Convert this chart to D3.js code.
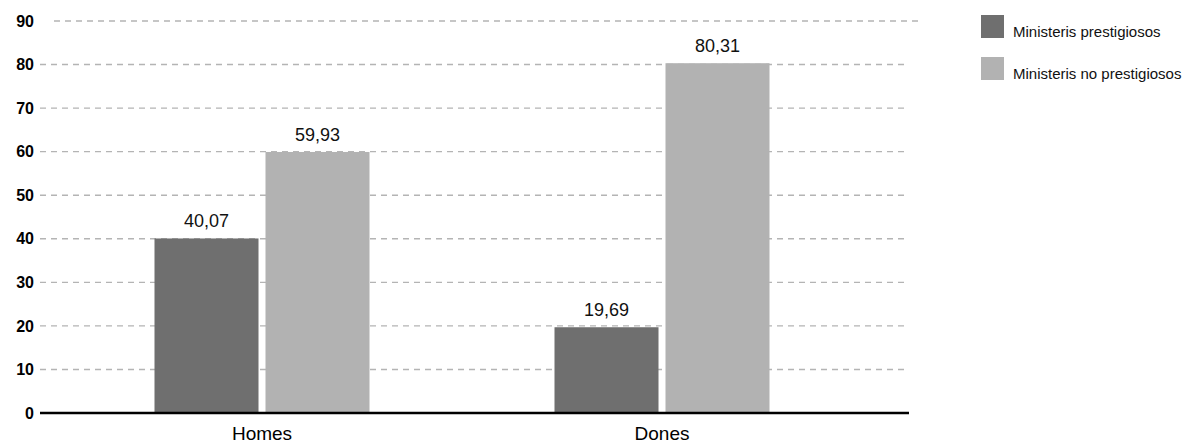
<!DOCTYPE html>
<html>
<head>
<meta charset="utf-8">
<script src="https://cdn.jsdelivr.net/npm/d3@7"></script>
<style>
  html, body { margin: 0; padding: 0; background: #fff; }
  svg { display: block; font-family: "Liberation Sans", Arial, Helvetica, sans-serif; }
</style>
</head>
<body>
<svg id="chart" width="1187" height="443"></svg>
<script>
// Chart data
const categories = ["Homes", "Dones"];
const seriesNames = ["Ministeris prestigiosos", "Ministeris no prestigiosos"];
const prestigiosos = [40.07, 19.69];
const noPrestigiosos = [59.93, 80.31];
const yTicks = [0, 10, 20, 30, 40, 50, 60, 70, 80, 90];
const seriesColors = ["#6f6f6f", "#b2b2b2"];

const seriesValues = [prestigiosos, noPrestigiosos];
const rows = categories.map((c, i) => ({
  category: c,
  values: seriesNames.map((s, j) => ({ series: s, value: seriesValues[j][i] }))
}));

const svg = d3.select("#chart");
const fmt = v => d3.format(".2f")(v).replace(".", ",");

// Scales
const y = d3.scaleLinear().domain([0, 90]).range([413, 21]);
const x0 = d3.scaleBand().domain(categories).range([62, 862]);
const groupWidth = 215;
const x1 = d3.scaleBand().domain(seriesNames).range([0, groupWidth]).paddingInner(0.063).paddingOuter(0);
const color = d3.scaleOrdinal().domain(seriesNames).range(seriesColors);

const plotLeft = 40, plotRight = 909;

// Dashed gridlines (top one sits slightly further right)
const grid = svg.append("g").attr("class", "grid");
yTicks.filter(t => t > 0).forEach(t => {
  const shift = t === 90 ? 14 : 0;
  grid.append("line")
    .attr("x1", plotLeft + shift).attr("x2", plotRight + shift)
    .attr("y1", y(t)).attr("y2", y(t))
    .attr("stroke", "#b4b4b4")
    .attr("stroke-width", 1.4)
    .attr("stroke-dasharray", "6,5");
});

// Y axis tick labels
const yAxis = d3.axisLeft(y).tickValues(yTicks).tickSize(0).tickPadding(6);
const yg = svg.append("g").attr("transform", `translate(${plotLeft},0)`).call(yAxis);
yg.select(".domain").remove();
yg.selectAll("text")
  .attr("font-family", "'Liberation Sans', Arial, sans-serif")
  .attr("font-size", 16).attr("font-weight", "bold").attr("fill", "#000");

// Bars
const groups = svg.append("g").selectAll("g").data(rows).join("g")
  .attr("transform", d => `translate(${x0(d.category) + x0.bandwidth() / 2 - groupWidth / 2},0)`);

groups.selectAll("rect").data(d => d.values).join("rect")
  .attr("x", d => x1(d.series))
  .attr("width", x1.bandwidth())
  .attr("y", d => y(d.value))
  .attr("height", d => y(0) - y(d.value))
  .attr("fill", d => color(d.series));

groups.selectAll("text.val").data(d => d.values).join("text")
  .attr("class", "val")
  .attr("x", d => x1(d.series) + x1.bandwidth() / 2)
  .attr("y", d => y(d.value) - 11)
  .attr("text-anchor", "middle")
  .attr("font-size", 18).attr("fill", "#111")
  .text(d => fmt(d.value));

// Baseline
svg.append("line")
  .attr("x1", plotLeft).attr("x2", plotRight)
  .attr("y1", y(0)).attr("y2", y(0))
  .attr("stroke", "#000").attr("stroke-width", 2.5);

// Category labels
const xAxis = d3.axisBottom(x0).tickSize(0).tickPadding(14);
const xg = svg.append("g").attr("transform", `translate(0,${y(0)})`).call(xAxis);
xg.select(".domain").remove();
xg.selectAll("text")
  .attr("font-family", "'Liberation Sans', Arial, sans-serif")
  .attr("font-size", 19).attr("fill", "#000");

// Legend
const legend = svg.append("g").attr("transform", "translate(981,15)");
const items = legend.selectAll("g").data(seriesNames).join("g")
  .attr("transform", (d, i) => `translate(0,${i * 42})`);
items.append("rect").attr("width", 23).attr("height", 23).attr("fill", d => color(d));
items.append("text").attr("x", 32).attr("y", 22)
  .attr("font-size", 15).attr("fill", "#111").text(d => d);
</script>
</body>
</html>
